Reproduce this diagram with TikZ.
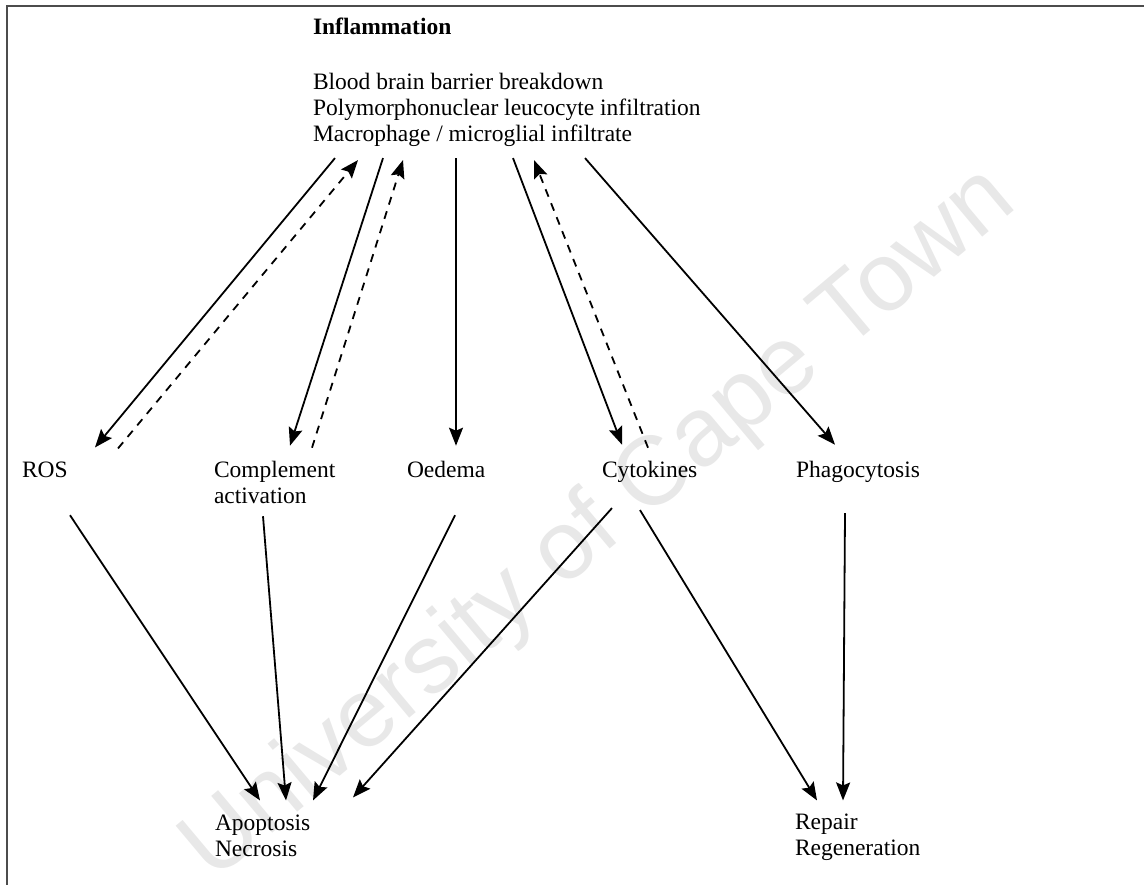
\documentclass[tikz,border=0pt]{standalone}
\usepackage{fontspec}
\setmainfont{Liberation Serif}
\newfontfamily\wmfont{Liberation Sans}
\usetikzlibrary{arrows.meta,calc}

\begin{document}
\begin{tikzpicture}[x=0.5pt,y=-0.5pt,
  lbl/.style={inner sep=0,outer sep=0,anchor=base west,align=left,
    font=\fontsize{11.75}{13}\selectfont},
  arr/.style={-{Stealth[length=9pt,width=7pt,inset=1.5pt]},line width=0.9pt},
  back/.style={arr,dash pattern=on 4pt off 3.5pt}]
\useasboundingbox (0,0) rectangle (1144,885);
% Watermark
\node[rotate=40,text=black!9,font=\wmfont\fontsize{48.8}{50}\selectfont] (wm) at (600,525) {University of Cape Town};
% Frame
\draw[line width=0.75pt,black!70] (1144,6) -- (7,6) -- (7,885);
% Top (base = last line)
\node[lbl,font=\bfseries\fontsize{11.75}{13}\selectfont] (infl) at (313,34) {Inflammation};
\node[lbl] (mech) at (313,141) {Blood brain barrier breakdown\\Polymorphonuclear leucocyte infiltration\\Macrophage / microglial infiltrate};
% Middle row
\node[lbl] (ros) at (22,477) {ROS};
\node[lbl] (comp) at (214,503) {Complement\\activation};
\node[lbl] (oed) at (407,477) {Oedema};
\node[lbl] (cyto) at (602,477) {Cytokines};
\node[lbl] (phago) at (796,477) {Phagocytosis};
% Outcomes
\node[lbl] (apop) at (215,856) {Apoptosis\\Necrosis};
\node[lbl] (rep) at (795,855) {Repair\\Regeneration};
% Inflammation to mediators
\draw[arr] ($(mech.south west)+(22,12)$) -- ($(ros.north west)+(73,-14)$);
\draw[back] ($(ros.north west)+(96,-13)$) -- ($(mech.south west)+(45,14)$);
\draw[arr] ($(mech.south west)+(70,12)$) -- ($(comp.north west)+(76,-15)$);
\draw[back] ($(comp.north west)+(98,-13)$) -- ($(mech.south west)+(90,14)$);
\draw[arr] ($(mech.south west)+(143,12)$) -- ($(oed.north west)+(49,-15)$);
\draw[arr] ($(mech.south west)+(200,12)$) -- ($(cyto.north west)+(20,-16)$);
\draw[back] ($(cyto.north west)+(46,-13)$) -- ($(mech.south west)+(221,14)$);
\draw[arr] ($(mech.south west)+(272,12)$) -- ($(phago.north west)+(39,-16)$);
% Mediators to outcomes
\draw[arr] ($(ros.south west)+(48,38)$) -- ($(apop.north west)+(45,-14)$);
\draw[arr] ($(comp.south west)+(49,13)$) -- ($(apop.north west)+(71,-14)$);
\draw[arr] ($(oed.south west)+(48,38)$) -- ($(apop.north west)+(98,-14)$);
\draw[arr] ($(cyto.south west)+(10,26)$) -- ($(apop.north west)+(138,-17)$);
\draw[arr] ($(cyto.south west)+(38,28)$) -- ($(rep.north west)+(22,-13)$);
\draw[arr] ($(phago.south west)+(49,31)$) -- ($(rep.north west)+(48,-13)$);
\end{tikzpicture}
\end{document}
